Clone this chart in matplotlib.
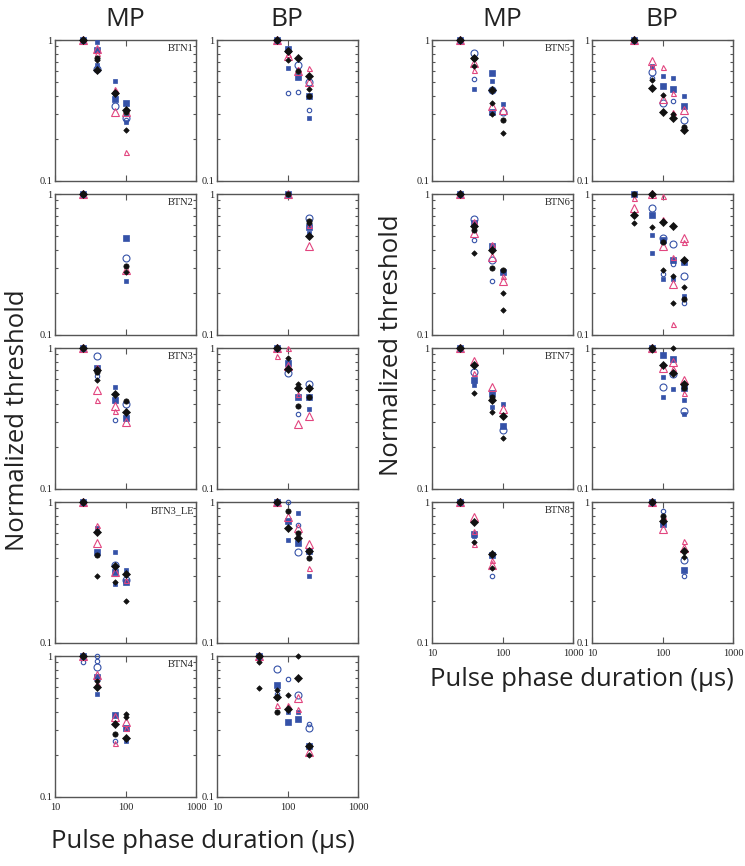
import matplotlib
matplotlib.use("Agg")
import matplotlib.pyplot as plt
from matplotlib.ticker import LogLocator, FixedLocator, FixedFormatter, NullFormatter

# ---------------- data (normalized thresholds) ----------------
# each panel: series -> (x values in us, normalized threshold)
BTN1_MP = {
    "sq_l": ([25, 40, 70, 100], [1, 0.85, 0.38, 0.36]),
    "sq_s": ([40, 40, 70, 100], [0.96, 0.66, 0.51, 0.26]),
    "tri_l": ([25, 40, 70, 100], [1, 0.87, 0.31, 0.31]),
    "tri_s": ([40, 70, 100], [0.81, 0.45, 0.16]),
    "circ_l": ([40, 70, 100], [0.62, 0.34, 0.28]),
    "circ_s": ([100], [0.27]),
    "dot": ([25, 40, 70, 100], [1, 0.74, 0.42, 0.31]),
    "dia_l": ([25, 40, 70, 100], [1, 0.61, 0.42, 0.32]),
    "dia_s": ([40, 100], [0.72, 0.23]),
}
BTN1_BP = {
    "sq_l": ([70, 100, 140, 200], [1, 0.86, 0.55, 0.40]),
    "sq_s": ([100, 200], [0.63, 0.28]),
    "tri_l": ([70, 100, 140, 200], [1, 0.77, 0.60, 0.50]),
    "tri_s": ([100, 140, 200], [0.80, 0.62, 0.63]),
    "circ_l": ([140, 200], [0.66, 0.50]),
    "circ_s": ([100, 140, 200], [0.42, 0.43, 0.32]),
    "dot": ([100, 140, 200], [0.83, 0.60, 0.40]),
    "dia_l": ([70, 100, 140, 200], [1, 0.83, 0.74, 0.56]),
    "dia_s": ([100, 200], [0.72, 0.45]),
}
BTN2_MP = {
    "sq_l": ([25, 100], [1, 0.49]),
    "sq_s": ([100], [0.24]),
    "tri_l": ([25, 100], [1, 0.29]),
    "circ_l": ([100], [0.35]),
    "dot": ([25, 100], [1, 0.31]),
    "dia_l": ([25], [1]),
    "dia_s": ([100], [0.28]),
}
BTN2_BP = {
    "sq_l": ([100, 200], [1, 0.58]),
    "sq_s": ([200], [0.53]),
    "tri_l": ([100, 200], [1, 0.43]),
    "tri_s": ([200], [0.60]),
    "circ_l": ([200], [0.68]),
    "dot": ([100, 200], [1, 0.64]),
    "dia_l": ([200], [0.50]),
    "dia_s": ([200], [0.62]),
}
BTN3_MP = {
    "sq_l": ([25, 40, 70, 100], [1, 0.72, 0.43, 0.32]),
    "sq_s": ([70], [0.53]),
    "tri_l": ([25, 40, 70, 100], [1, 0.50, 0.39, 0.30]),
    "tri_s": ([40, 40, 70], [0.73, 0.43, 0.36]),
    "circ_l": ([40, 100], [0.88, 0.40]),
    "circ_s": ([40, 70], [0.63, 0.31]),
    "dot": ([40, 100], [0.68, 0.42]),
    "dia_l": ([25, 40, 70, 100], [1, 0.70, 0.47, 0.35]),
    "dia_s": ([40], [0.59]),
}
BTN3_BP = {
    "sq_l": ([70, 100, 140, 200], [1, 0.78, 0.45, 0.45]),
    "sq_s": ([200], [0.37]),
    "tri_l": ([70, 100, 140, 200], [1, 0.75, 0.29, 0.33]),
    "tri_s": ([70, 100, 140], [0.88, 1.0, 0.47]),
    "circ_l": ([100, 200], [0.67, 0.56]),
    "circ_s": ([140], [0.34]),
    "dot": ([140, 200], [0.39, 0.45]),
    "dia_l": ([70, 100, 140, 200], [1, 0.71, 0.52, 0.52]),
    "dia_s": ([100, 140], [0.85, 0.56]),
}
BTN3_LE_MP = {
    "sq_l": ([25, 40, 70, 100], [1, 0.44, 0.32, 0.27]),
    "sq_s": ([40, 70, 70, 100], [0.65, 0.44, 0.26, 0.33]),
    "tri_l": ([25, 40, 70], [1, 0.51, 0.32]),
    "tri_s": ([40, 100], [0.69, 0.28]),
    "circ_l": ([70, 100], [0.36, 0.28]),
    "dot": ([40], [0.42]),
    "dia_l": ([25, 40, 70, 100], [1, 0.61, 0.35, 0.31]),
    "dia_s": ([40, 70, 100], [0.30, 0.27, 0.20]),
}
BTN3_LE_BP = {
    "sq_l": ([70, 100, 140, 200], [1, 0.73, 0.51, 0.45]),
    "sq_s": ([100, 140, 200], [0.54, 0.83, 0.30]),
    "tri_l": ([70, 100, 140, 200], [1, 0.78, 0.65, 0.50]),
    "tri_s": ([200], [0.34]),
    "circ_l": ([140], [0.44]),
    "circ_s": ([100, 140], [1.0, 0.69]),
    "dot": ([100, 140, 200], [0.86, 0.60, 0.40]),
    "dia_l": ([70, 100, 140, 200], [1, 0.65, 0.56, 0.45]),
}
BTN4_MP = {
    "sq_l": ([25, 40, 70, 100], [1, 0.71, 0.38, 0.31]),
    "sq_s": ([40, 100], [0.54, 0.25]),
    "tri_l": ([25, 40, 70, 100], [1, 0.73, 0.37, 0.34]),
    "tri_s": ([40, 70, 100], [0.64, 0.24, 0.31]),
    "circ_l": ([40], [0.84]),
    "circ_s": ([25, 40, 40, 70], [0.91, 1.0, 0.92, 0.25]),
    "dot": ([70], [0.28]),
    "dia_l": ([25, 40, 70, 100], [1, 0.60, 0.33, 0.26]),
    "dia_s": ([40, 100, 100], [0.67, 0.39, 0.37]),
}
BTN4_BP = {
    "sq_l": ([40, 70, 100, 140, 200], [1, 0.62, 0.34, 0.36, 0.23]),
    "sq_s": ([70, 100, 140], [0.51, 0.40, 0.40]),
    "tri_l": ([40, 140, 200], [1, 0.50, 0.21]),
    "tri_s": ([70, 100, 140], [0.45, 0.45, 0.42]),
    "circ_l": ([70, 140, 200], [0.81, 0.53, 0.31]),
    "circ_s": ([70, 100, 200], [0.54, 0.69, 0.33]),
    "dot": ([70], [0.40]),
    "dia_l": ([40, 70, 100, 140, 200], [1, 0.51, 0.42, 0.70, 0.23]),
    "dia_s": ([40, 40, 70, 100, 140, 200], [0.91, 0.59, 0.57, 0.53, 1.0, 0.20]),
}
BTN5_MP = {
    "sq_l": ([25, 70, 70], [1, 0.58, 0.31]),
    "sq_s": ([40, 70, 100], [0.45, 0.51, 0.35]),
    "tri_l": ([25, 40, 70, 100], [1, 0.69, 0.34, 0.32]),
    "tri_s": ([40], [0.61]),
    "circ_l": ([40, 70, 100], [0.81, 0.44, 0.31]),
    "circ_s": ([40], [0.53]),
    "dot": ([40, 100], [0.74, 0.27]),
    "dia_l": ([25, 40, 70], [1, 0.74, 0.44]),
    "dia_s": ([40, 70, 70, 100], [0.65, 0.36, 0.30, 0.22]),
}
BTN5_BP = {
    "sq_l": ([40, 100, 140, 200], [1, 0.47, 0.45, 0.34]),
    "sq_s": ([70, 100, 140, 200], [0.65, 0.56, 0.54, 0.40]),
    "tri_l": ([40, 70, 100, 200], [1, 0.71, 0.38, 0.32]),
    "tri_s": ([70, 100, 140, 140], [0.65, 0.64, 0.42, 0.31]),
    "circ_l": ([70, 100, 200], [0.59, 0.36, 0.27]),
    "circ_s": ([70, 140], [0.54, 0.37]),
    "dot": ([200], [0.24]),
    "dia_l": ([40, 70, 100, 140, 200], [1, 0.46, 0.31, 0.28, 0.23]),
    "dia_s": ([70, 100, 140], [0.52, 0.41, 0.30]),
}
BTN6_MP = {
    "sq_l": ([25, 40, 70, 100], [1, 0.62, 0.43, 0.28]),
    "tri_l": ([25, 40, 70, 100], [1, 0.53, 0.36, 0.24]),
    "tri_s": ([40, 70, 100], [0.64, 0.44, 0.26]),
    "circ_l": ([40, 70], [0.66, 0.34]),
    "circ_s": ([40, 70], [0.47, 0.24]),
    "dot": ([40, 70, 100], [0.56, 0.30, 0.29]),
    "dia_l": ([25, 40, 70], [1, 0.59, 0.40]),
    "dia_s": ([40, 100, 100], [0.38, 0.20, 0.15]),
}
BTN6_BP = {
    "sq_l": ([40, 70, 100, 140, 200], [1, 0.71, 0.47, 0.34, 0.33]),
    "sq_s": ([70, 70, 100, 140, 200], [0.51, 0.38, 0.25, 0.25, 0.19]),
    "tri_l": ([40, 70, 100, 140, 200], [0.80, 1.0, 0.43, 0.23, 0.49]),
    "tri_s": ([40, 100, 100, 140, 140, 200], [0.93, 0.96, 0.66, 0.36, 0.12, 0.46]),
    "circ_l": ([70, 100, 140, 200], [0.80, 0.49, 0.44, 0.26]),
    "circ_s": ([100, 140, 200], [0.27, 0.32, 0.17]),
    "dot": ([40, 100, 200], [1.0, 0.46, 0.18]),
    "dia_l": ([40, 70, 100, 140, 200], [0.71, 1.0, 0.63, 0.59, 0.34]),
    "dia_s": ([40, 70, 100, 140, 140, 200], [0.62, 0.58, 0.29, 0.26, 0.17, 0.22]),
}
BTN7_MP = {
    "sq_l": ([25, 40, 70, 100], [1, 0.59, 0.48, 0.28]),
    "sq_s": ([40, 70, 100], [0.55, 0.38, 0.40]),
    "tri_l": ([25, 40, 70, 100], [1, 0.81, 0.53, 0.37]),
    "tri_s": ([40], [0.66]),
    "circ_l": ([40, 100], [0.68, 0.26]),
    "dot": ([70], [0.45]),
    "dia_l": ([25, 40, 70, 100], [1, 0.76, 0.43, 0.33]),
    "dia_s": ([40, 70, 100], [0.48, 0.35, 0.23]),
}
BTN7_BP = {
    "sq_l": ([70, 100, 140, 200], [1, 0.89, 0.84, 0.52]),
    "sq_s": ([100, 100, 140, 200, 200], [0.62, 0.45, 0.51, 0.43, 0.34]),
    "tri_l": ([70, 100, 140, 200], [1, 0.72, 0.80, 0.59]),
    "tri_s": ([140, 200], [0.72, 0.48]),
    "circ_l": ([100, 140, 200], [0.53, 0.65, 0.36]),
    "dot": ([200], [0.52]),
    "dia_l": ([70, 100, 140, 200], [1, 0.76, 0.67, 0.56]),
    "dia_s": ([70, 140], [0.97, 1.0]),
}
BTN8_MP = {
    "sq_l": ([25, 40, 70], [1, 0.59, 0.42]),
    "sq_s": ([40], [0.57]),
    "tri_l": ([25, 40, 70], [1, 0.78, 0.36]),
    "tri_s": ([40, 40, 70], [0.62, 0.50, 0.39]),
    "circ_s": ([70], [0.30]),
    "dia_l": ([25, 40, 70], [1, 0.72, 0.43]),
    "dia_s": ([40, 70], [0.52, 0.34]),
}
BTN8_BP = {
    "sq_l": ([70, 100, 200], [1, 0.70, 0.33]),
    "tri_l": ([70, 100, 200], [1, 0.64, 0.47]),
    "tri_s": ([100, 200], [0.80, 0.53]),
    "circ_l": ([200], [0.39]),
    "circ_s": ([100, 200], [0.86, 0.30]),
    "dot": ([100], [0.80]),
    "dia_l": ([70, 100, 200], [1, 0.73, 0.45]),
    "dia_s": ([200], [0.41]),
}

PANEL_LABELS_LEFT = ["BTN1", "BTN2", "BTN3", "BTN3_LE", "BTN4"]
PANEL_LABELS_RIGHT = ["BTN5", "BTN6", "BTN7", "BTN8"]
LEFT_DATA = [(BTN1_MP, BTN1_BP), (BTN2_MP, BTN2_BP), (BTN3_MP, BTN3_BP),
             (BTN3_LE_MP, BTN3_LE_BP), (BTN4_MP, BTN4_BP)]
RIGHT_DATA = [(BTN5_MP, BTN5_BP), (BTN6_MP, BTN6_BP), (BTN7_MP, BTN7_BP),
              (BTN8_MP, BTN8_BP)]
COL_TITLES = ["MP", "BP"]
X_TICKS = [10, 100, 1000]
X_TICK_LABELS = ["10", "100", "1000"]
Y_TICKS = [0.1, 1]
Y_TICK_LABELS = ["0.1", "1"]

# ---------------- styles ----------------
BLUE = "#3552a8"
PINK = "#e2457f"
BLACK = "#111111"
STYLE = {
    "circ_s": dict(marker="o", ms=3.2, mfc="none", mec=BLUE, mew=0.8),
    "circ_l": dict(marker="o", ms=5.0, mfc="none", mec=BLUE, mew=0.8),
    "sq_l": dict(marker="s", ms=4.6, mfc=BLUE, mec=BLUE, mew=0.5),
    "sq_s": dict(marker="s", ms=3.0, mfc=BLUE, mec=BLUE, mew=0.5),
    "tri_l": dict(marker="^", ms=5.2, mfc="none", mec=PINK, mew=0.8),
    "tri_s": dict(marker="^", ms=3.6, mfc="none", mec=PINK, mew=0.8),
    "dot": dict(marker="o", ms=3.8, mfc=BLACK, mec=BLACK, mew=0.5),
    "dia_l": dict(marker="D", ms=4.4, mfc=BLACK, mec=BLACK, mew=0.5),
    "dia_s": dict(marker="D", ms=2.8, mfc=BLACK, mec=BLACK, mew=0.5),
}
ORDER = ["circ_s", "circ_l", "sq_l", "sq_s", "tri_l", "tri_s", "dot", "dia_l", "dia_s"]

W, H = 745, 866
fig = plt.figure(figsize=(W / 100, H / 100), dpi=100)
SANS = ["Open Sans", "DejaVu Sans"]
SERIF = ["Liberation Serif", "DejaVu Serif"]
SPINE = "#555555"
TXT = "#222222"


def make_ax(x0, y0, show_x):
    ax = fig.add_axes([x0 / W, 1 - (y0 + 141) / H, 141 / W, 141 / H])
    ax.set_xscale("log")
    ax.set_yscale("log")
    ax.set_xlim(10, 1000)
    ax.set_ylim(0.1, 1)
    ax.xaxis.set_major_locator(FixedLocator(X_TICKS))
    ax.xaxis.set_minor_locator(FixedLocator([]))
    ax.yaxis.set_major_locator(FixedLocator(Y_TICKS))
    ax.yaxis.set_major_formatter(FixedFormatter(Y_TICK_LABELS))
    ax.yaxis.set_minor_locator(LogLocator(base=10, subs=range(2, 10)))
    ax.yaxis.set_minor_formatter(NullFormatter())
    if show_x:
        ax.xaxis.set_major_formatter(FixedFormatter(X_TICK_LABELS))
    else:
        ax.xaxis.set_major_formatter(NullFormatter())
    ax.tick_params(which="both", direction="in", top=True, right=True,
                   color=SPINE, width=0.8)
    ax.tick_params(which="major", length=4, labelsize=7.5, labelcolor=TXT)
    ax.tick_params(axis="y", which="major", pad=2)
    ax.tick_params(axis="x", which="major", pad=4.5)
    ax.tick_params(which="minor", length=2.5)
    for s in ax.spines.values():
        s.set_color(SPINE)
        s.set_linewidth(1.0)
    return ax


def draw(ax, data):
    for z, key in enumerate(ORDER):
        if key in data:
            xs, ys = data[key]
            ax.plot(xs, ys, ls="none", zorder=3 + z, clip_on=False, **STYLE[key])


def finish(ax):
    for lab in ax.get_xticklabels() + ax.get_yticklabels():
        lab.set_family(SERIF)


col_x_left = [55, 217]
col_x_right = [432, 592]
top0 = 40
step = 154

for col_x, rows, labels in ((col_x_left, LEFT_DATA, PANEL_LABELS_LEFT),
                            (col_x_right, RIGHT_DATA, PANEL_LABELS_RIGHT)):
    for i, (mp, bp) in enumerate(rows):
        y0 = top0 + step * i
        last = i == len(rows) - 1
        for j, d in enumerate((mp, bp)):
            ax = make_ax(col_x[j], y0, last)
            draw(ax, d)
            finish(ax)
            if j == 0:
                ax.text(0.985, 0.94, labels[i], transform=ax.transAxes,
                        ha="right", va="center", fontsize=7.5, family=SERIF, color=TXT)

# column titles
for cx, t in zip([125, 287, 502, 662], COL_TITLES * 2):
    fig.text(cx / W, 1 - 20 / H, t, ha="center", va="center", fontsize=19,
             family=SANS, color=TXT)

# axis labels
LAB_FS = 18.5
fig.text(18 / W, 1 - 420 / H, "Normalized threshold", rotation=90, ha="center",
         va="center", fontsize=LAB_FS, family=SANS, color=TXT)
fig.text(392 / W, 1 - 345 / H, "Normalized threshold", rotation=90, ha="center",
         va="center", fontsize=LAB_FS, family=SANS, color=TXT)
fig.text(203 / W, 1 - 842 / H, "Pulse phase duration (\u03bcs)", ha="center",
         va="center", fontsize=LAB_FS, family=SANS, color=TXT)
fig.text(582 / W, 1 - 680 / H, "Pulse phase duration (\u03bcs)", ha="center",
         va="center", fontsize=LAB_FS, family=SANS, color=TXT)

fig.savefig("out.png", dpi=100, facecolor="white")
